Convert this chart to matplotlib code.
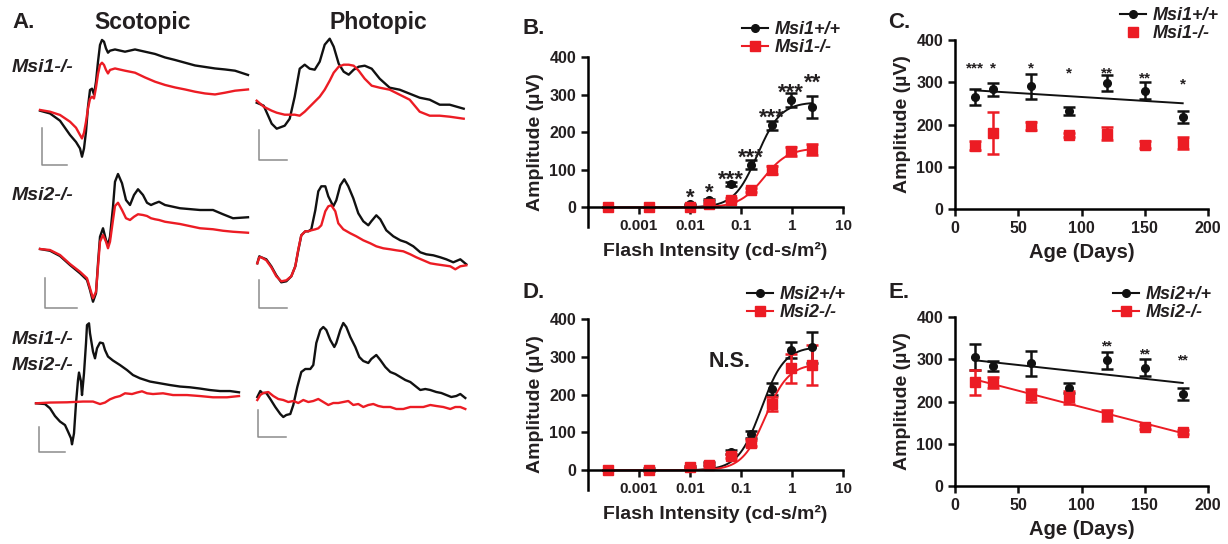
import matplotlib.pyplot as plt
from matplotlib.lines import Line2D
import numpy as np

plt.rcParams['font.family'] = ['Liberation Sans', 'DejaVu Sans']
plt.rcParams['font.weight'] = 'bold'
plt.rcParams['axes.labelweight'] = 'bold'

W, H = 1228, 544
RED = '#ec1c24'
DARK = '#111111'
INK = '#231f20'
BAR = '#8c8c8c'

# ---- A: ERG traces (time in ms, amplitude in uV) ----
sc1_t = [0, 10, 20, 30, 36, 40, 42, 44, 46, 48, 50, 52, 54, 56, 58, 60, 62, 64, 66, 68,
         70, 75, 85, 95, 105, 115, 125, 135, 145, 155, 165, 175, 185, 195, 208]
sc1_wt = [0, -11, -40, -97, -125, -151, -184, -151, -84, 16, 83, 88, 65, 116, 196, 263, 283, 276, 249, 232,
          240, 245, 236, 245, 236, 227, 213, 203, 192, 181, 175, 169, 165, 160, 143]
sc1_ko = [3, -4, -17, -44, -68, -97, -111, -88, -44, 9, 47, 56, 49, 93, 147, 183, 192, 183, 163, 149,
          163, 169, 160, 152, 133, 116, 103, 93, 85, 76, 69, 65, 72, 80, 85]

ph1_t = [0, 7, 15, 20, 28, 33, 38, 43, 48, 53, 58, 63, 68, 73, 77, 82, 87, 92, 97, 102,
         108, 115, 123, 133, 143, 153, 163, 173, 183, 193, 207]
ph1_wt = [-1, -4, -22, -27, -24, -17, 5, 33, 37, 33, 32, 40, 57, 63, 55, 38, 30, 27, 32, 35,
          36, 33, 23, 14, 12, 8, 4, 2, -3, -3, -7]
ph1_ko = [1, -5, -9, -11, -13, -13, -13, -14, -10, -5, 0, 5, 12, 21, 29, 35, 37, 37, 36, 31,
          23, 16, 14, 12, 7, 2, -10, -14, -14, -15, -17]

sc2_t = [0, 10, 20, 30, 40, 47, 50, 53, 56, 58, 60, 63, 66, 68, 70, 73, 75, 78, 82, 86,
         90, 94, 98, 103, 107, 111, 115, 119, 125, 140, 160, 173, 183, 193, 208]
sc2_wt = [0, -7, -28, -64, -97, -124, -164, -211, -177, -57, 49, 83, 36, 16, 49, 169, 269, 300, 263, 196,
          176, 216, 239, 216, 185, 176, 183, 189, 176, 163, 156, 156, 139, 123, 127]
sc2_ko = [0, -4, -24, -60, -91, -117, -157, -197, -171, -71, 29, 56, 29, 3, 29, 116, 172, 185, 156, 123,
          116, 129, 139, 136, 132, 123, 119, 116, 109, 100, 83, 79, 73, 69, 65]

ph2_wt_t = [0, 2, 4, 9, 14, 19, 24, 29, 34, 38, 41, 44, 48, 51, 54, 58, 61, 64, 68, 71, 76, 79, 83,
            87, 91, 96, 101, 106, 111, 114, 119, 123, 129, 136, 143, 149, 156, 163, 169, 176, 183,
            189, 196, 203, 209]
ph2_wt = [-5, 2, 1, -1, -8, -17, -24, -23, -18, -8, 8, 23, 27, 27, 29, 48, 67, 72, 72, 62, 52, 58, 73,
          79, 72, 60, 45, 37, 33, 37, 43, 39, 28, 22, 18, 16, 12, 6, 4, 3, 1, -1, -4, -1, -6]
ph2_ko_t = [0, 2, 4, 9, 14, 19, 24, 29, 34, 38, 41, 44, 48, 51, 54, 58, 61, 64, 68, 71, 74, 78, 81,
            86, 93, 99, 106, 113, 119, 126, 133, 139, 146, 153, 159, 166, 173, 179, 186, 193, 198, 203, 209]
ph2_ko = [-5, 1, 1, -2, -9, -18, -23, -22, -18, -8, 9, 23, 27, 27, 28, 29, 30, 33, 47, 52, 53, 47, 35,
          29, 25, 22, 18, 15, 12, 10, 9, 8, 7, 4, 1, -2, -5, -6, -7, -8, -11, -8, -7]

sc3_wt_t = [0, 9, 14, 19, 24, 29, 32, 35, 36, 38, 40, 42, 43, 45, 46, 48, 50, 51, 53, 54, 57,
            59, 61, 64, 67, 69, 72, 77, 84, 91, 97, 104, 114, 124, 134, 144, 154, 164, 174, 184, 194, 203]
sc3_wt = [0, -3, -20, -51, -73, -87, -113, -140, -164, -120, 0, 93, 123, 87, 33, 120, 240, 313, 320, 280, 207,
          180, 220, 243, 240, 213, 187, 171, 153, 133, 113, 100, 87, 80, 73, 67, 64, 59, 53, 49, 49, 44]
sc3_ko_t = [0, 14, 31, 47, 57, 64, 69, 74, 79, 84, 89, 96, 101, 106, 111, 117, 127, 137, 151, 164, 177, 191, 203]
sc3_ko = [0, 3, 4, 7, 7, -3, 3, 16, 24, 29, 40, 37, 43, 48, 40, 37, 40, 33, 33, 29, 24, 24, 29]

ph3_wt_t = [0, 3, 5, 9, 13, 18, 23, 26, 29, 33, 36, 40, 44, 48, 53, 56, 59, 63, 66, 69, 73, 77, 79, 83, 86,
            89, 93, 98, 102, 106, 111, 114, 119, 123, 128, 133, 138, 143, 148, 153, 158, 163, 168, 173,
            179, 184, 189, 194, 199, 203, 208]
ph3_wt = [-1, 5, 3, 3, -3, -11, -18, -21, -19, -18, -9, 9, 24, 27, 27, 31, 53, 66, 69, 66, 56, 49, 53, 66, 73,
          69, 59, 49, 39, 35, 33, 37, 41, 36, 29, 24, 22, 19, 16, 14, 10, 6, 7, 6, 4, 3, 1, -1, 0, 2, -2]
ph3_ko_t = [0, 3, 6, 11, 16, 21, 26, 31, 36, 41, 46, 51, 56, 61, 66, 71, 76, 81, 86, 91, 96, 101, 106,
            111, 116, 121, 126, 133, 139, 146, 153, 159, 166, 173, 179, 186, 193, 198, 203, 208]
ph3_ko = [-4, 1, 3, 4, 0, -3, -4, -6, -5, -7, -4, -6, -5, -3, -6, -9, -7, -7, -6, -5, -9, -8, -11,
          -9, -8, -10, -11, -11, -13, -13, -11, -11, -11, -9, -10, -11, -13, -11, -11, -13]

# ---- B / D: intensity response ----
flash = [0.00025, 0.0016, 0.01, 0.024, 0.063, 0.16, 0.4, 0.95, 2.5]
flash_ticks = [0.001, 0.01, 0.1, 1, 10]
flash_labels = ['0.001', '0.01', '0.1', '1', '10']

b_wt = [0, 0, 8, 20, 62, 113, 218, 285, 267]
b_wt_err = [0, 0, 2, 3, 5, 12, 12, 18, 28]
b_ko = [0, 0, 2, 10, 20, 47, 100, 150, 155]
b_ko_err = [0, 0, 1, 2, 4, 5, 10, 12, 15]
b_stars = ['', '', '*', '*', '***', '***', '***', '***', '**']
b_star_y = [0, 0, 45, 59, 93, 152, 259, 325, 352]
# sigmoid fit parameters (max, EC50, Hill slope) as drawn
b_wt_fit = (280, 0.21, 1.9)
b_ko_fit = (158, 0.28, 1.8)

d_wt = [0, 2, 8, 18, 48, 95, 215, 318, 325]
d_wt_err = [0, 3, 3, 3, 5, 10, 15, 22, 40]
d_ko = [0, 0, 8, 15, 38, 72, 175, 270, 278]
d_ko_err = [0, 0, 3, 4, 5, 8, 18, 38, 52]
d_wt_fit = (327, 0.25, 1.9)
d_ko_fit = (282, 0.30, 1.9)

# ---- C / E: amplitude vs age ----
age = [16, 30, 60, 90, 120, 150, 180]
c_wt = [265, 283, 290, 232, 298, 280, 218]
c_wt_err = [18, 15, 30, 10, 18, 20, 15]
c_ko = [150, 180, 197, 176, 178, 152, 157]
c_ko_err = [10, 50, 10, 5, 15, 8, 14]
c_stars = ['***', '*', '*', '*', '**', '**', '*']
c_star_y = [345, 345, 344, 334, 334, 320, 307]

e_wt = [305, 285, 290, 232, 298, 280, 218]
e_wt_err = [30, 12, 30, 12, 20, 20, 15]
e_ko = [245, 245, 215, 210, 167, 140, 128]
e_ko_err = [30, 12, 15, 15, 12, 5, 5]
e_stars = ['', '', '', '', '**', '**', '**']
e_star_y = [0, 0, 0, 0, 341, 322, 308]

fig = plt.figure(figsize=(W / 100, H / 100), dpi=100)


def box(x0, y0, x1, y1):
    return [x0 / W, 1 - y1 / H, (x1 - x0) / W, (y1 - y0) / H]


def ftext(x, y, s, **kw):
    kw.setdefault('color', INK)
    fig.text(x / W, 1 - y / H, s, **kw)


def trace_panel(px, t0, base, uv_px, wt, ko, bar):
    x0, y0, x1, y1 = px
    ax = fig.add_axes(box(*px))
    ax.set_xlim(x0 - t0, x1 - t0)
    ax.set_ylim((base - y1) * uv_px, (base - y0) * uv_px)
    ax.axis('off')
    ax.plot(wt[0], wt[1], color=DARK, lw=1.7)
    ax.plot(ko[0], ko[1], color=RED, lw=1.7)
    bt, bv, bw, bh = bar
    ax.plot([bt, bt, bt + bw], [bv + bh, bv, bv], color=BAR, lw=1.1)


trace_panel((34, 34, 252, 168), 40, 110.7, 4, (sc1_t, sc1_wt), (sc1_t, sc1_ko), (2, -217, 25, 147))
trace_panel((250, 34, 468, 168), 256.7, 101.7, 1, (ph1_t, ph1_wt), (ph1_t, ph1_ko), (2, -58, 28, 30))
trace_panel((34, 170, 252, 312), 40, 249, 4, (sc2_t, sc2_wt), (sc2_t, sc2_ko), (5, -236, 32, 120))
trace_panel((250, 170, 468, 312), 257.3, 258.3, 1, (ph2_wt_t, ph2_wt), (ph2_ko_t, ph2_ko), (2, -50, 28, 28))
trace_panel((34, 314, 252, 458), 36, 403.3, 4, (sc3_wt_t, sc3_wt), (sc3_ko_t, sc3_ko), (3, -193, 26, 100))
trace_panel((250, 314, 468, 458), 257.3, 396, 1, (ph3_wt_t, ph3_wt), (ph3_ko_t, ph3_ko), (1, -41, 28, 27))

ftext(12, 23, 'A.', fontsize=16, va='center')
ftext(143, 23, 'Scotopic', fontsize=16.5, ha='center', va='center')
ftext(378, 23, 'Photopic', fontsize=16.5, ha='center', va='center')
for y, s in ((67, 'Msi1-/-'), (195, 'Msi2-/-'), (340, 'Msi1-/-'), (365, 'Msi2-/-')):
    ftext(12, y, s, fontsize=14, style='italic', va='center')


def style_axes(ax, tick_x, tick_y):
    for s in ('top', 'right'):
        ax.spines[s].set_visible(False)
    for s in ('left', 'bottom'):
        ax.spines[s].set_linewidth(1.8)
    ax.tick_params(width=1.8, length=5, colors=DARK, labelcolor=INK)
    ax.tick_params(axis='x', labelsize=tick_x)
    ax.tick_params(axis='y', labelsize=tick_y)
    ax.set_ylabel('Amplitude (µV)', fontsize=14, color=INK, labelpad=4)


def legend(handles, labels, x, y):
    fig.legend(handles, labels, loc='upper left', bbox_to_anchor=(x / W, 1 - y / H),
               frameon=False, prop=dict(weight='bold', style='italic', size=13),
               handlelength=1.45, handletextpad=0.35, labelspacing=0.08,
               borderpad=0, borderaxespad=0, labelcolor=INK)


def intensity_panel(px, series, names, leg_xy):
    ax = fig.add_axes(box(*px))
    styles = ((DARK, 'o', 5.5), (RED, 's', 6.5))
    for (y, e, fit), (col, mk, ms) in zip(series, styles):
        V, K, n = fit
        xs = np.logspace(np.log10(flash[0]), np.log10(flash[-1]), 300)
        ax.plot(xs, V * xs**n / (xs**n + K**n), color=col, lw=1.4)
        ax.errorbar(flash, y, yerr=e, fmt=mk, ms=ms, color=col, capsize=4,
                    elinewidth=1.8, capthick=1.8, clip_on=False)
    ax.set_xscale('log')
    ax.set_xlim(1e-4, 10)
    ax.set_ylim(-52, 400)
    ax.spines['bottom'].set_position(('data', 0))
    ax.set_xticks(flash_ticks)
    ax.set_xticklabels(flash_labels)
    ax.xaxis.set_minor_locator(plt.NullLocator())
    ax.set_yticks([0, 100, 200, 300, 400])
    style_axes(ax, 11, 11.5)
    ax.set_xlabel('Flash Intensity (cd-s/m²)', fontsize=14, color=INK, labelpad=6)
    h = [Line2D([], [], color=DARK, marker='o', ms=5.5, lw=1.5),
         Line2D([], [], color=RED, marker='s', ms=6.5, lw=1.5)]
    legend(h, names, *leg_xy)
    return ax


def age_panel(px, wt, wt_err, ko, ko_err, ko_line, names, leg_xy):
    ax = fig.add_axes(box(*px))
    lines = [(wt, wt_err, DARK, 'o', 5.5, True), (ko, ko_err, RED, 's', 6.5, ko_line)]
    for y, e, col, mk, ms, fit in lines:
        if fit:
            k, b = np.polyfit(age, y, 1)
            xs = np.array([age[0], age[-1]])
            ax.plot(xs, k * xs + b, color=col, lw=1.4)
        ax.errorbar(age, y, yerr=e, fmt=mk, ms=ms, color=col, capsize=4,
                    elinewidth=1.8, capthick=1.8, clip_on=False)
    ax.set_xlim(0, 200)
    ax.set_ylim(0, 400)
    ax.set_xticks([0, 50, 100, 150, 200])
    ax.set_yticks([0, 100, 200, 300, 400])
    style_axes(ax, 11.5, 11.5)
    ax.set_xlabel('Age (Days)', fontsize=14.5, color=INK, labelpad=5)
    h = [Line2D([], [], color=DARK, marker='o', ms=5.5, lw=1.5),
         Line2D([], [], color=RED, marker='s', ms=6.5, lw=1.5 if ko_line else 0,
                ls='-' if ko_line else 'none')]
    legend(h, names, *leg_xy)
    return ax


def stars(ax, xs, marks, ys, size):
    for x, s, y in zip(xs, marks, ys):
        if s:
            ax.annotate(s, (x, y), xytext=(0, -0.6 * size), textcoords='offset points',
                        ha='center', va='baseline', fontsize=size, color=INK,
                        annotation_clip=False)


axB = intensity_panel((588, 57, 843, 227),
                      [(b_wt, b_wt_err, b_wt_fit), (b_ko, b_ko_err, b_ko_fit)],
                      ['Msi1+/+', 'Msi1-/-'], (742, 21))
stars(axB, flash, b_stars, b_star_y, 16)
axD = intensity_panel((588, 319, 843, 490),
                      [(d_wt, d_wt_err, d_wt_fit), (d_ko, d_ko_err, d_ko_fit)],
                      ['Msi2+/+', 'Msi2-/-'], (747, 286))
axD.text(0.06, 287, 'N.S.', fontsize=15.5, ha='center', va='center', color=INK)

axC = age_panel((955, 40, 1208, 209), c_wt, c_wt_err, c_ko, c_ko_err, False,
                ['Msi1+/+', 'Msi1-/-'], (1120, 7))
stars(axC, age, c_stars, c_star_y, 11)
axE = age_panel((955, 317, 1208, 486), e_wt, e_wt_err, e_ko, e_ko_err, True,
                ['Msi2+/+', 'Msi2-/-'], (1113, 286))
stars(axE, age, e_stars, e_star_y, 10)

ftext(523, 28, 'B.', fontsize=16, va='center')
ftext(888, 22, 'C.', fontsize=16, va='center')
ftext(523, 293, 'D.', fontsize=16, va='center')
ftext(888, 293, 'E.', fontsize=16, va='center')

fig.savefig('out.png', dpi=100, facecolor='white')
